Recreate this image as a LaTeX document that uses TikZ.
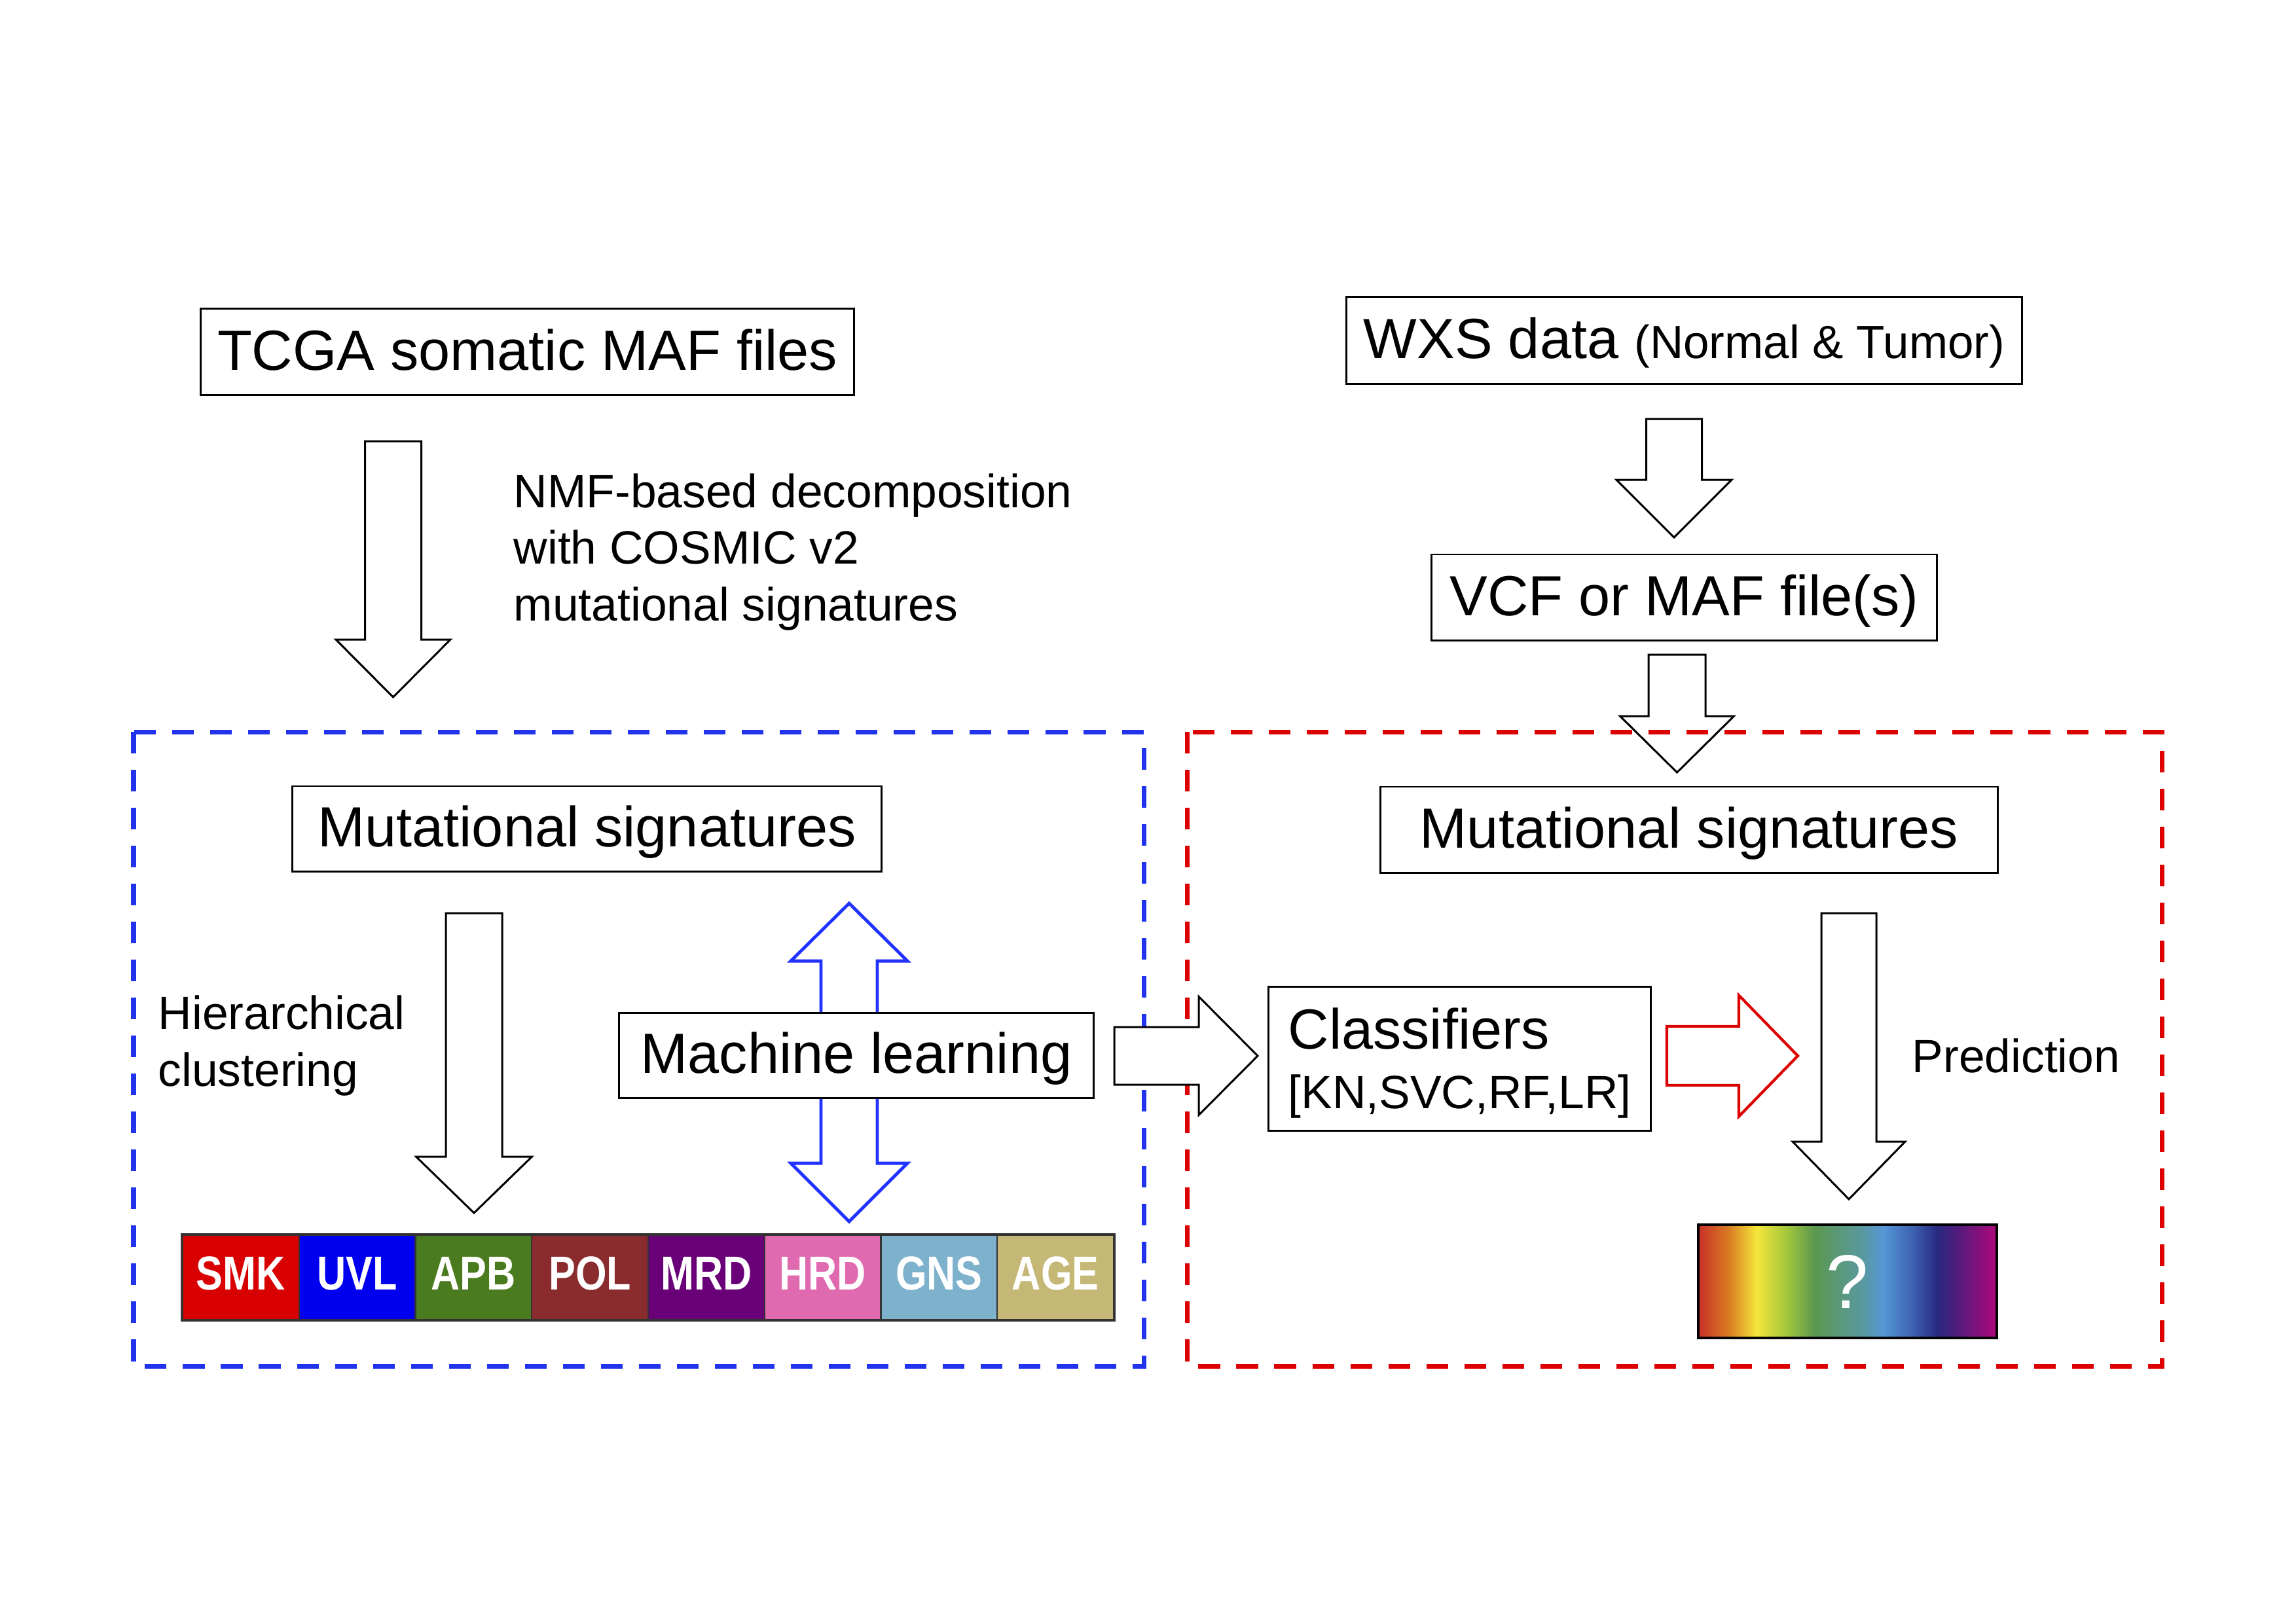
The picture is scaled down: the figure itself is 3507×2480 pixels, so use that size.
\documentclass[tikz,border=0pt]{standalone}
\usepackage{graphicx}
\usepackage{fontspec}
\setmainfont{Liberation Sans}
\definecolor{dblue}{HTML}{2233EE}
\definecolor{dred}{HTML}{DD0000}
\definecolor{ablue}{HTML}{2233FF}
\definecolor{cSMK}{HTML}{D80000}
\definecolor{cUVL}{HTML}{0000EE}
\definecolor{cAPB}{HTML}{4A7B1E}
\definecolor{cPOL}{HTML}{8A2C2E}
\definecolor{cMRD}{HTML}{6A0078}
\definecolor{cHRD}{HTML}{E06AB0}
\definecolor{cGNS}{HTML}{7EB1CC}
\definecolor{cAGE}{HTML}{C5B776}
\definecolor{g0}{HTML}{C8302A}
\definecolor{g1}{HTML}{D87A22}
\definecolor{g2}{HTML}{F5E63A}
\definecolor{g3}{HTML}{A0C43C}
\definecolor{g4}{HTML}{5A9850}
\definecolor{g5}{HTML}{5A98A0}
\definecolor{g6}{HTML}{5598D8}
\definecolor{g7}{HTML}{3A5AAC}
\definecolor{g8}{HTML}{282880}
\definecolor{g9}{HTML}{5A1A7C}
\definecolor{g10}{HTML}{B0087C}
\pgfdeclarehorizontalshading{rainbowx}{100bp}{color(0bp)=(g0); color(25bp)=(g0); color(30bp)=(g1); color(34.8bp)=(g2); color(40bp)=(g3); color(44.5bp)=(g4); color(52.5bp)=(g5); color(56bp)=(g6); color(61.5bp)=(g7); color(65bp)=(g8); color(69bp)=(g9); color(75bp)=(g10); color(100bp)=(g10)}
\tikzset{
  box/.style={draw, line width=0.85pt, fill=white, inner sep=0pt,
    font=\fontsize{24.6}{29}\selectfont, text height=20pt, text depth=4.3pt},
  lbl/.style={inner sep=0pt, font=\fontsize{20.3}{24.6}\selectfont},
  blockarrow/.style={draw, line width=0.85pt, fill=white, line join=miter},
  dashbox/.style={line width=2pt, dash pattern=on 9.4pt off 7.1pt},
  cell/.style={draw=black!80, line width=0.6pt, inner sep=0pt,
    minimum width=1.7775cm, minimum height=1.29cm, text=white,
    font=\bfseries\fontsize{20.7}{24}\selectfont, text height=14.8pt, text depth=4.3pt}
}
\newcommand{\blkdown}[7][]{\draw[blockarrow,#1] (#2-#6,#3) -- (#2+#6,#3) -- (#2+#6,#4) -- (#2+#7,#4) -- (#2,#5) -- (#2-#7,#4) -- (#2-#6,#4) -- cycle;}
\newcommand{\blkright}[7][]{\draw[blockarrow,#1] (#2,#3-#6) -- (#4,#3-#6) -- (#4,#3-#7) -- (#5,#3) -- (#4,#3+#7) -- (#4,#3+#6) -- (#2,#3+#6) -- cycle;}
\begin{document}
\begin{tikzpicture}[x=0.01cm, y=-0.01cm]
\useasboundingbox (0,0) rectangle (3507,2480);
\fill[white] (0,0) rectangle (3507,2480);

% top arrows
\blkdown{600.5}{674}{977}{1065}{43}{87.5}
\blkdown{2557}{640}{733}{821}{42.5}{88}
\blkdown{2561.5}{1000}{1094}{1180}{43.5}{87}

% dashed panels
\draw[dashbox, draw=dblue] (204,1118) rectangle (1747,2087);
\draw[dashbox, draw=dred] (1813,1118) rectangle (3302,2087);

% blue double arrow
\draw[draw=ablue, line width=1.4pt, fill=white, line join=miter]
  (1297,1380) -- (1386,1468) -- (1340,1468) -- (1340,1777) -- (1386,1777) -- (1297,1866)
  -- (1208,1777) -- (1254,1777) -- (1254,1468) -- (1208,1468) -- cycle;

% boxes
\node[box, minimum width=9.97cm, minimum height=1.31cm] (tcga) at (805.5,537.5) {TCGA somatic MAF files};
\node[box, minimum width=10.31cm, minimum height=1.32cm] (wxs) at (2572.5,520) {WXS data {\fontsize{20.2}{24}\selectfont (Normal \& Tumor)}};
\node[box, minimum width=7.71cm, minimum height=1.31cm] (vcf) at (2572.5,912.5) {VCF or MAF file(s)};
\node[box, minimum width=8.99cm, minimum height=1.30cm] (mutL) at (896.5,1266) {Mutational signatures};
\node[box, minimum width=9.42cm, minimum height=1.31cm] (mutR) at (2580,1267.5) {Mutational signatures};
\node[box, minimum width=7.24cm, minimum height=1.30cm] (ml) at (1308,1612) {Machine learning};
\node[box, minimum width=5.83cm, minimum height=2.19cm, text height=20pt, text depth=28.8pt] (clf) at (2229.5,1617.5)
  {\vtop{\baselineskip=25.9pt\hbox{Classifiers}\hbox{\fontsize{20.3}{24}\selectfont[KN,SVC,RF,LR]}}};

% lower arrows
\blkdown{724}{1395}{1767}{1853}{43}{88.5}
\blkdown{2824}{1395}{1744}{1832}{42}{86}
\blkright{1702}{1613}{1831}{1921}{44}{90.5}
\blkright[draw=dred, line width=1.2pt]{2546}{1613}{2656}{2746}{45}{92.5}

% text labels
\node[lbl, anchor=base west] (nmf) at (784,775)
  {\vtop{\baselineskip=24.6pt\hbox{NMF-based decomposition}\hbox{with COSMIC v2}\hbox{mutational signatures}}};
\node[lbl, anchor=base west] (hier) at (241,1572)
  {\vtop{\baselineskip=25pt\hbox{Hierarchical}\hbox{clustering}}};
\node[lbl, anchor=base west] (pred) at (2920,1638) {Prediction};

% signature colour bar
\foreach \lab/\col [count=\i from 0] in {SMK/cSMK,UVL/cUVL,APB/cAPB,POL/cPOL,MRD/cMRD,HRD/cHRD,GNS/cGNS,AGE/cAGE}
  \node[cell, fill=\col] (bar\i) at ({279+177.75*(\i+0.5)},1951.5) {\scalebox{0.84}[1]{\lab}};
\draw[line width=0.9pt, draw=black!80] (bar0.north west) rectangle (bar7.south east);

% prediction gradient
\node[draw, line width=1pt, shade, shading=rainbowx, minimum width=4.56cm, minimum height=1.73cm,
  inner sep=0pt, text=white, font=\fontsize{33}{36}\selectfont] (grad) at (2822,1957.5) {?};
\end{tikzpicture}
\end{document}
